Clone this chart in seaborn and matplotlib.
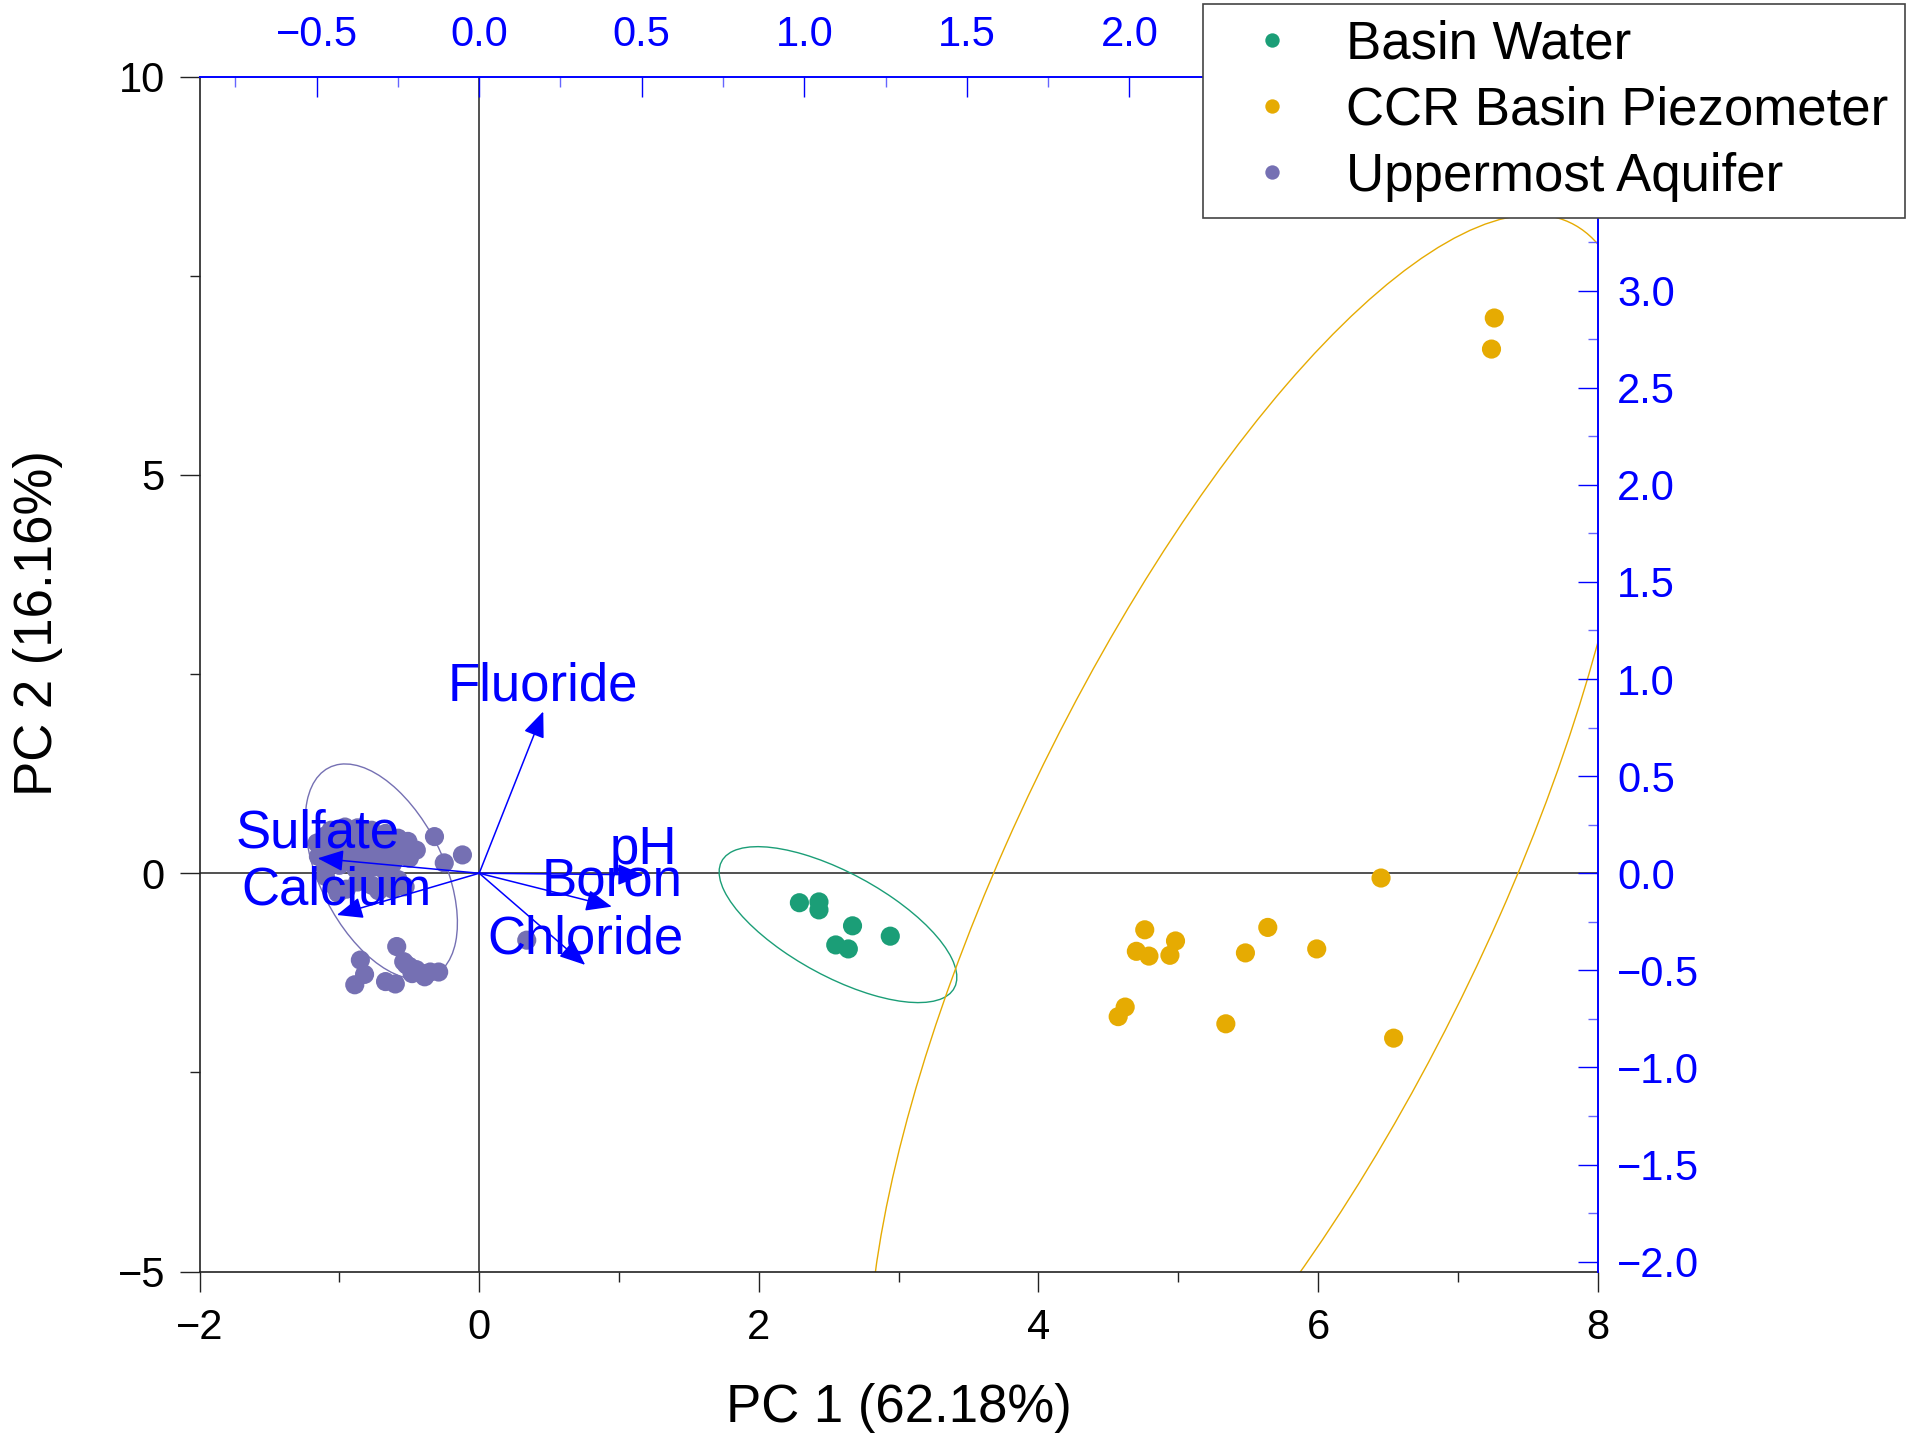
import numpy as np
import pandas as pd
import matplotlib
matplotlib.use("Agg")
import matplotlib.pyplot as plt
import seaborn as sns
from matplotlib.patches import Ellipse
from matplotlib.ticker import MultipleLocator, FuncFormatter

# ---------------- data ----------------
groups = ["Basin Water", "CCR Basin Piezometer", "Uppermost Aquifer"]
group_colors = ["#1b9e77", "#e6ab02", "#7570b3"]

basin_pc1 = [2.29, 2.43, 2.43, 2.67, 2.94, 2.55, 2.64]
basin_pc2 = [-0.37, -0.36, -0.46, -0.66, -0.79, -0.90, -0.95]

ccr_pc1 = [6.45, 4.76, 4.98, 4.70, 4.79, 4.94, 5.64, 5.48, 5.99, 4.62, 4.57,
           5.34, 6.54, 7.26, 7.24]
ccr_pc2 = [-0.06, -0.71, -0.85, -0.98, -1.04, -1.03, -0.68, -1.00, -0.95,
           -1.68, -1.80, -1.89, -2.07, 6.97, 6.58]

aquifer_pc1 = [-1.16, -1.15, -1.10, -1.06, -0.96, -0.87, -0.77, -0.67, -0.58,
               -0.51, -0.45, -0.50, -0.58, -0.67, -0.77, -0.87, -0.96, -1.03,
               -0.91, -0.79, -0.63, -0.32, -0.12, -0.25, -1.08, -1.00, -0.92,
               -0.83, -0.72, -0.62, -0.55, -0.70, -0.85, -0.98, -1.10, -0.75,
               -0.88, -1.00,
               -1.03, -1.01, -0.87, -0.77, -0.67, -0.58, -0.53, -0.82, -0.67,
               -1.10, -0.95, -0.72, -0.62,
               -0.59, -0.85, -0.82, -0.89, -0.67, -0.60, -0.54, -0.50, -0.45,
               -0.40, -0.35, -0.29, -0.39, -0.48, -0.52, 0.34]
aquifer_pc2 = [0.38, 0.21, 0.06, 0.54, 0.58, 0.57, 0.54, 0.50, 0.44,
               0.40, 0.29, 0.19, 0.21, 0.25, 0.27, 0.31, 0.34, 0.40,
               0.46, 0.42, 0.36, 0.46, 0.23, 0.13, 0.28, 0.20, 0.15,
               0.20, 0.17, 0.12, 0.30, 0.38, 0.40, 0.47, 0.47, 0.08,
               0.05, 0.10,
               -0.17, -0.25, -0.11, -0.15, -0.13, -0.08, -0.17, 0.04, 0.02,
               -0.04, -0.20, -0.22, -0.20,
               -0.92, -1.09, -1.27, -1.40, -1.36, -1.39, -1.11, -1.17, -1.21,
               -1.26, -1.24, -1.24, -1.30, -1.26, -1.15, -0.84]

# 95% ellipses per group: centre and shape matrix (data units)
ell_cx = [2.566, 5.53, -0.70]
ell_cy = [-0.645, -0.10, 0.02]
ell_sxx = [0.7225, 7.55, 0.296]
ell_syy = [0.958, 70.0, 1.828]
ell_sxy = [-0.562, 16.8, -0.35]

# variable loadings (biplot arrows, secondary axes units)
variables = ["Fluoride", "pH", "Boron", "Chloride", "Sulfate", "Calcium"]
load_pc1 = [0.197, 0.505, 0.408, 0.326, -0.497, -0.438]
load_pc2 = [0.833, -0.008, -0.172, -0.472, 0.077, -0.215]

pc1_label = "PC 1 (62.18%)"
pc2_label = "PC 2 (16.16%)"

x_limits = (-2, 8)
y_limits = (-5, 10)
loading_scale_x = 2.325
loading_scale_y = 2.438
# loading tick labels that sit under the legend box in the reference
top_label_max = 2.2
right_label_max = 3.2

# ---------------- style ----------------
sns.set_theme(style="white")
plt.rcParams["font.family"] = ["Liberation Sans", "DejaVu Sans"]
plt.rcParams["axes.unicode_minus"] = True
plt.rcParams["text.color"] = "black"
plt.rcParams["axes.labelcolor"] = "black"

BLUE = "#0000ff"

df = pd.concat([
    pd.DataFrame({"PC1": basin_pc1, "PC2": basin_pc2, "Group": groups[0]}),
    pd.DataFrame({"PC1": ccr_pc1, "PC2": ccr_pc2, "Group": groups[1]}),
    pd.DataFrame({"PC1": aquifer_pc1, "PC2": aquifer_pc2, "Group": groups[2]}),
], ignore_index=True)

fig = plt.figure(figsize=(19.08, 14.35), dpi=100)
rect = [0.1046, 0.1139, 0.7328, 0.8327]
ax = fig.add_axes(rect)

ax.axhline(0, color="#333333", lw=1.2, zorder=1)
ax.axvline(0, color="#333333", lw=1.2, zorder=1)

for cx, cy, sxx, syy, sxy, col in zip(ell_cx, ell_cy, ell_sxx, ell_syy, ell_sxy, group_colors):
    S = np.array([[sxx, sxy], [sxy, syy]])
    vals, vecs = np.linalg.eigh(S)
    ang = np.degrees(np.arctan2(vecs[1, 1], vecs[0, 1]))
    e = Ellipse((cx, cy), 2 * np.sqrt(vals[1]), 2 * np.sqrt(vals[0]), angle=ang,
                fill=False, edgecolor=col, lw=1.0, zorder=2)
    ax.add_patch(e)

sns.scatterplot(data=df, x="PC1", y="PC2", hue="Group", hue_order=groups,
                palette=group_colors, s=190, linewidth=0, alpha=1, ax=ax,
                zorder=3, legend=True)
handles, labels = ax.get_legend_handles_labels()
ax.get_legend().remove()

ax.set_xlim(*x_limits)
ax.set_ylim(*y_limits)
ax.xaxis.set_major_locator(MultipleLocator(2))
ax.xaxis.set_minor_locator(MultipleLocator(1))
ax.yaxis.set_major_locator(MultipleLocator(5))
ax.yaxis.set_minor_locator(MultipleLocator(2.5))
ax.tick_params(which="both", direction="out", color="#222222", width=1.0,
               bottom=True, left=True, top=False, right=False, labelsize=30,
               labelcolor="black")
ax.tick_params(which="major", length=14.4)
ax.tick_params(which="minor", length=7.2)
ax.tick_params(axis="x", which="major", pad=12)
ax.tick_params(axis="y", which="major", pad=10.5)
for s in ["top", "right"]:
    ax.spines[s].set_visible(False)
for s in ["left", "bottom"]:
    ax.spines[s].set_color("#222222")
    ax.spines[s].set_linewidth(1.2)

ax.set_xlabel(pc1_label, fontsize=38, color="black")
ax.set_ylabel(pc2_label, fontsize=38, color="black")
ax.xaxis.set_label_coords(0.5, -0.093)
ax.yaxis.set_label_coords(-0.0978, 0.543)

# secondary axes for loadings
ax2 = fig.add_axes(rect)
ax2.patch.set_visible(False)
ax2.set_xlim(x_limits[0] / loading_scale_x, x_limits[1] / loading_scale_x)
ax2.set_ylim(y_limits[0] / loading_scale_y, y_limits[1] / loading_scale_y)
ax2.xaxis.tick_top()
ax2.yaxis.tick_right()
ax2.xaxis.set_major_locator(MultipleLocator(0.5))
ax2.xaxis.set_minor_locator(MultipleLocator(0.25))
ax2.yaxis.set_major_locator(MultipleLocator(0.5))
ax2.yaxis.set_minor_locator(MultipleLocator(0.25))


def _fmt(limit):
    def f(v, pos):
        if v > limit:
            return ""
        return f"{v:.1f}".replace("-", "\u2212")
    return FuncFormatter(f)


ax2.xaxis.set_major_formatter(_fmt(top_label_max))
ax2.yaxis.set_major_formatter(_fmt(right_label_max))
ax2.tick_params(which="both", direction="in", color=BLUE, width=1.0,
                labelcolor=BLUE, labelsize=30, top=True, right=True,
                bottom=False, left=False, labelbottom=False, labelleft=False)
ax2.tick_params(which="major", length=14.4)
ax2.tick_params(which="minor", length=7.2, color="#6666ff")
ax2.tick_params(axis="x", which="major", pad=15.4)
ax2.tick_params(axis="y", which="major", pad=14)
for s in ["left", "bottom"]:
    ax2.spines[s].set_visible(False)
for s in ["top", "right"]:
    ax2.spines[s].set_color(BLUE)
    ax2.spines[s].set_linewidth(1.4)

for v, lx, ly in zip(variables, load_pc1, load_pc2):
    ax2.annotate("", xy=(lx, ly), xytext=(0, 0),
                 arrowprops=dict(arrowstyle="-|>,head_length=0.8,head_width=0.33",
                                 mutation_scale=20, color=BLUE, lw=1.1,
                                 shrinkA=0, shrinkB=0))
    ax2.text(lx, ly, v, color=BLUE, fontsize=38, ha="center", va="bottom")

leg = fig.legend(handles, labels, loc="upper left",
                 bbox_to_anchor=(1203 / 1908, 1 - 3.6 / 1435),
                 bbox_transform=fig.transFigure, borderaxespad=0,
                 frameon=True, fancybox=False, framealpha=1,
                 edgecolor="#444444", fontsize=38, handlelength=2.0,
                 handletextpad=0.4, borderpad=0.31, labelspacing=0.3,
                 markerscale=0.75)
for t in leg.get_texts():
    t.set_color("black")
leg.get_frame().set_linewidth(1.2)
leg.set_zorder(10)

fig.savefig("out.png", dpi=100)
